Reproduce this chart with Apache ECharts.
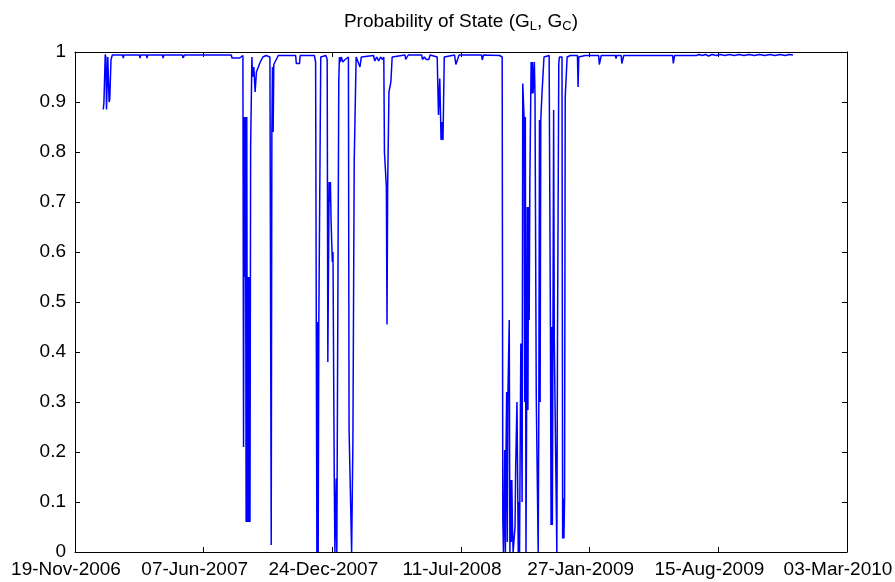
<!DOCTYPE html>
<html>
<head>
<meta charset="utf-8">
<script src="https://cdn.jsdelivr.net/npm/echarts@6/dist/echarts.min.js"></script>
<style>
  html, body { margin: 0; padding: 0; background: #ffffff; }
  #chart { width: 895px; height: 582px; }
</style>
</head>
<body>
<div id="chart"></div>
<script>
// Axis span (calendar days) and tick spacing
const axisStart = '2006-11-19';
const axisEnd = '2010-03-03';
const tickStepDays = 200;
const monthNames = ['Jan','Feb','Mar','Apr','May','Jun','Jul','Aug','Sep','Oct','Nov','Dec'];

// Observation dates
const obsDates = [
  '2007-01-02','2007-01-03','2007-01-05','2007-01-06','2007-01-07','2007-01-09','2007-01-11','2007-01-12','2007-01-14','2007-01-16',
  '2007-02-01','2007-02-02','2007-02-03','2007-02-27','2007-02-28','2007-03-01','2007-03-10','2007-03-11','2007-03-12',
  '2007-04-04','2007-04-05','2007-04-06','2007-05-05','2007-05-06','2007-05-08','2007-07-20','2007-07-21','2007-08-02','2007-08-04',
  '2007-08-07','2007-08-08','2007-08-09','2007-08-10','2007-08-11','2007-08-12','2007-08-13','2007-08-14','2007-08-15','2007-08-16',
  '2007-08-17','2007-08-18','2007-08-19',
  '2007-08-21','2007-08-22','2007-08-24','2007-08-26','2007-08-28','2007-08-31','2007-09-03','2007-09-07','2007-09-12','2007-09-18',
  '2007-09-20','2007-09-21','2007-09-22','2007-09-23','2007-09-24','2007-09-27','2007-10-01','2007-10-28','2007-10-29','2007-11-03',
  '2007-11-04','2007-11-26','2007-11-28','2007-11-30','2007-12-01','2007-12-02','2007-12-03','2007-12-04','2007-12-06','2007-12-14',
  '2007-12-16','2007-12-17',
  '2007-12-19','2007-12-20','2007-12-21','2007-12-22','2007-12-24','2007-12-25','2007-12-27','2007-12-28','2007-12-30','2007-12-31',
  '2008-01-02','2008-01-03','2008-01-04','2008-01-05','2008-01-07','2008-01-09','2008-01-13','2008-01-18','2008-01-19','2008-01-21',
  '2008-01-23','2008-01-25','2008-01-26','2008-01-27','2008-01-28','2008-01-30','2008-02-02','2008-02-05','2008-02-07','2008-02-10',
  '2008-02-26','2008-02-28','2008-03-02','2008-03-05','2008-03-08','2008-03-11','2008-03-13','2008-03-14','2008-03-16','2008-03-17',
  '2008-03-18','2008-03-19','2008-03-20','2008-03-21','2008-03-23','2008-03-24','2008-03-26','2008-03-28','2008-04-15','2008-04-16',
  '2008-04-19','2008-04-20','2008-05-11','2008-05-12','2008-05-15','2008-05-18','2008-05-22','2008-05-24','2008-06-04','2008-06-06',
  '2008-06-08','2008-06-10','2008-06-11','2008-06-12','2008-06-13','2008-06-15','2008-07-01','2008-07-03','2008-07-06','2008-07-08',
  '2008-08-12','2008-08-13','2008-08-15','2008-09-09','2008-09-13','2008-09-14','2008-09-15','2008-09-16','2008-09-17','2008-09-18',
  '2008-09-19','2008-09-20','2008-09-21','2008-09-22','2008-09-24','2008-09-25','2008-09-26','2008-09-27','2008-09-28','2008-09-29',
  '2008-09-30','2008-10-03','2008-10-04','2008-10-06','2008-10-08','2008-10-09','2008-10-10','2008-10-12','2008-10-13','2008-10-14',
  '2008-10-15','2008-10-17','2008-10-18','2008-10-19','2008-10-20','2008-10-21','2008-10-22','2008-10-23','2008-10-24','2008-10-25',
  '2008-10-26','2008-10-28','2008-10-29','2008-10-30','2008-10-31','2008-11-02','2008-11-03','2008-11-05','2008-11-08','2008-11-09',
  '2008-11-10','2008-11-11','2008-11-12','2008-11-14','2008-11-16','2008-11-17','2008-11-25','2008-11-27','2008-11-28','2008-11-29',
  '2008-11-30','2008-12-02','2008-12-03','2008-12-05','2008-12-07','2008-12-08','2008-12-10','2008-12-11','2008-12-15','2008-12-16',
  '2008-12-17','2008-12-18','2008-12-19','2008-12-20','2008-12-22','2008-12-23','2008-12-28','2009-01-08','2009-01-09','2009-01-10',
  '2009-01-20','2009-02-10','2009-02-11','2009-02-13','2009-02-14','2009-03-08','2009-03-09','2009-03-10','2009-03-17','2009-03-18',
  '2009-03-20','2009-03-21','2009-05-25','2009-05-26','2009-05-28','2009-06-05','2009-06-06','2009-06-07','2009-06-08','2009-07-12',
  '2009-07-16','2009-07-21','2009-07-26','2009-07-31','2009-08-05','2009-08-12','2009-08-18','2009-08-25','2009-09-01','2009-09-09',
  '2009-09-16','2009-09-24','2009-10-02','2009-10-10','2009-10-18','2009-10-26','2009-11-03','2009-11-11','2009-11-19','2009-11-27',
  '2009-12-03','2009-12-09'
];

// Probability of state (G_L, G_C) on each date
const probGLGC = [
  0.885,0.900,0.995,0.990,0.885,0.990,0.900,0.905,0.985,0.994,
  0.994,0.988,0.994,0.994,0.988,0.994,0.994,0.988,0.994,
  0.994,0.988,0.994,0.994,0.988,0.994,0.994,0.988,0.988,0.990,
  0.993,0.210,0.870,0.550,0.870,0.060,0.870,0.060,0.550,0.060,
  0.550,0.060,0.810,
  0.990,0.950,0.970,0.920,0.960,0.970,0.980,0.990,0.993,0.990,
  0.014,0.840,0.970,0.840,0.975,0.975,0.993,0.993,0.977,0.977,
  0.993,0.993,0.980,0.000,0.460,0.000,0.460,0.460,0.990,0.993,
  0.985,0.380,
  0.740,0.700,0.740,0.664,0.580,0.600,0.147,0.000,0.147,0.000,
  0.000,0.940,0.990,0.980,0.990,0.980,0.985,0.990,0.247,0.250,
  0.000,0.224,0.224,0.780,0.780,0.990,0.980,0.970,0.990,0.993,
  0.993,0.982,0.990,0.982,0.990,0.985,0.990,0.800,0.800,0.730,
  0.455,0.730,0.730,0.920,0.920,0.940,0.990,0.994,0.994,0.985,
  0.985,0.994,0.994,0.985,0.990,0.985,0.985,0.994,0.990,0.874,
  0.947,0.824,0.860,0.830,0.824,0.990,0.994,0.975,0.975,0.994,
  0.994,0.984,0.994,0.993,0.990,0.064,0.000,0.064,0.204,0.000,
  0.204,0.320,0.020,0.320,0.464,0.000,0.144,0.020,0.144,0.050,
  0.000,0.050,0.170,0.300,0.000,0.100,0.000,0.417,0.300,0.100,
  0.937,0.870,0.300,0.870,0.000,0.284,0.690,0.284,0.690,0.464,
  0.734,0.980,0.917,0.980,0.917,0.980,0.917,0.310,0.000,0.300,
  0.864,0.300,0.864,0.920,0.920,0.990,0.993,0.450,0.054,0.450,
  0.054,0.884,0.424,0.424,0.000,0.420,0.977,0.990,0.990,0.027,
  0.107,0.027,0.107,0.910,0.910,0.990,0.993,0.993,0.930,0.990,
  0.993,0.993,0.975,0.975,0.993,0.993,0.987,0.993,0.993,0.977,
  0.977,0.993,0.993,0.997,0.993,0.993,0.977,0.977,0.993,0.993,
  0.995,0.993,0.995,0.992,0.995,0.993,0.995,0.993,0.995,0.993,
  0.995,0.993,0.995,0.993,0.995,0.993,0.995,0.993,0.995,0.993,
  0.995,0.994
];

const DAY_MS = 86400000;
const t0 = Date.parse(axisStart + 'T00:00:00Z');
const dayOf = s => Math.round((Date.parse(s + 'T00:00:00Z') - t0) / DAY_MS);
const spanDays = dayOf(axisEnd);

function fmtDay(d) {
  const dt = new Date(t0 + d * DAY_MS);
  const dd = String(dt.getUTCDate()).padStart(2, '0');
  return dd + '-' + monthNames[dt.getUTCMonth()] + '-' + dt.getUTCFullYear();
}

const seriesData = obsDates.map((s, i) => [dayOf(s), probGLGC[i]]);

const font = '"Liberation Sans", Arial, Helvetica, sans-serif';
const frame = { show: true, onZero: false, lineStyle: { color: '#000000', width: 1 } };
const innerTick = { show: true, inside: true, length: 5, lineStyle: { color: '#000000', width: 1 } };

const chart = echarts.init(document.getElementById('chart'), null, { renderer: 'canvas' });
chart.setOption({
  animation: false,
  backgroundColor: '#ffffff',
  title: {
    text: 'Probability of State (G{sub|L}, G{sub|C})',
    left: 456,
    top: 5,
    textAlign: 'center',
    textStyle: {
      fontFamily: font, fontSize: 19, fontWeight: 'normal', color: '#000000',
      rich: { sub: { fontFamily: font, fontSize: 13, color: '#000000', verticalAlign: 'bottom', padding: [10, 0, 0, 0] } }
    }
  },
  grid: { left: 75, right: 48, top: 52, bottom: 30, containLabel: false, outerBoundsMode: 'none' },
  xAxis: [
    {
      type: 'value', position: 'bottom', min: 0, max: spanDays, interval: tickStepDays,
      axisLine: frame, axisTick: innerTick, splitLine: { show: false },
      axisLabel: { show: true, margin: 8, padding: [0, 18, 0, 0], color: '#000000', fontFamily: font, fontSize: 19, formatter: v => fmtDay(v) }
    },
    {
      type: 'value', position: 'top', min: 0, max: spanDays, interval: tickStepDays,
      axisLine: frame, axisTick: innerTick, splitLine: { show: false }, axisLabel: { show: false }
    }
  ],
  yAxis: [
    {
      type: 'value', position: 'left', min: 0, max: 1, interval: 0.1,
      axisLine: frame, axisTick: innerTick, splitLine: { show: false },
      axisLabel: { show: true, margin: 9, color: '#000000', fontFamily: font, fontSize: 19 }
    },
    {
      type: 'value', position: 'right', min: 0, max: 1, interval: 0.1,
      axisLine: frame, axisTick: innerTick, splitLine: { show: false }, axisLabel: { show: false }
    }
  ],
  series: [{
    type: 'line',
    xAxisIndex: 0, yAxisIndex: 0,
    data: seriesData,
    showSymbol: false,
    lineStyle: { color: '#0000ff', width: 1.5 },
    emphasis: { disabled: true }
  }]
});
</script>
</body>
</html>
